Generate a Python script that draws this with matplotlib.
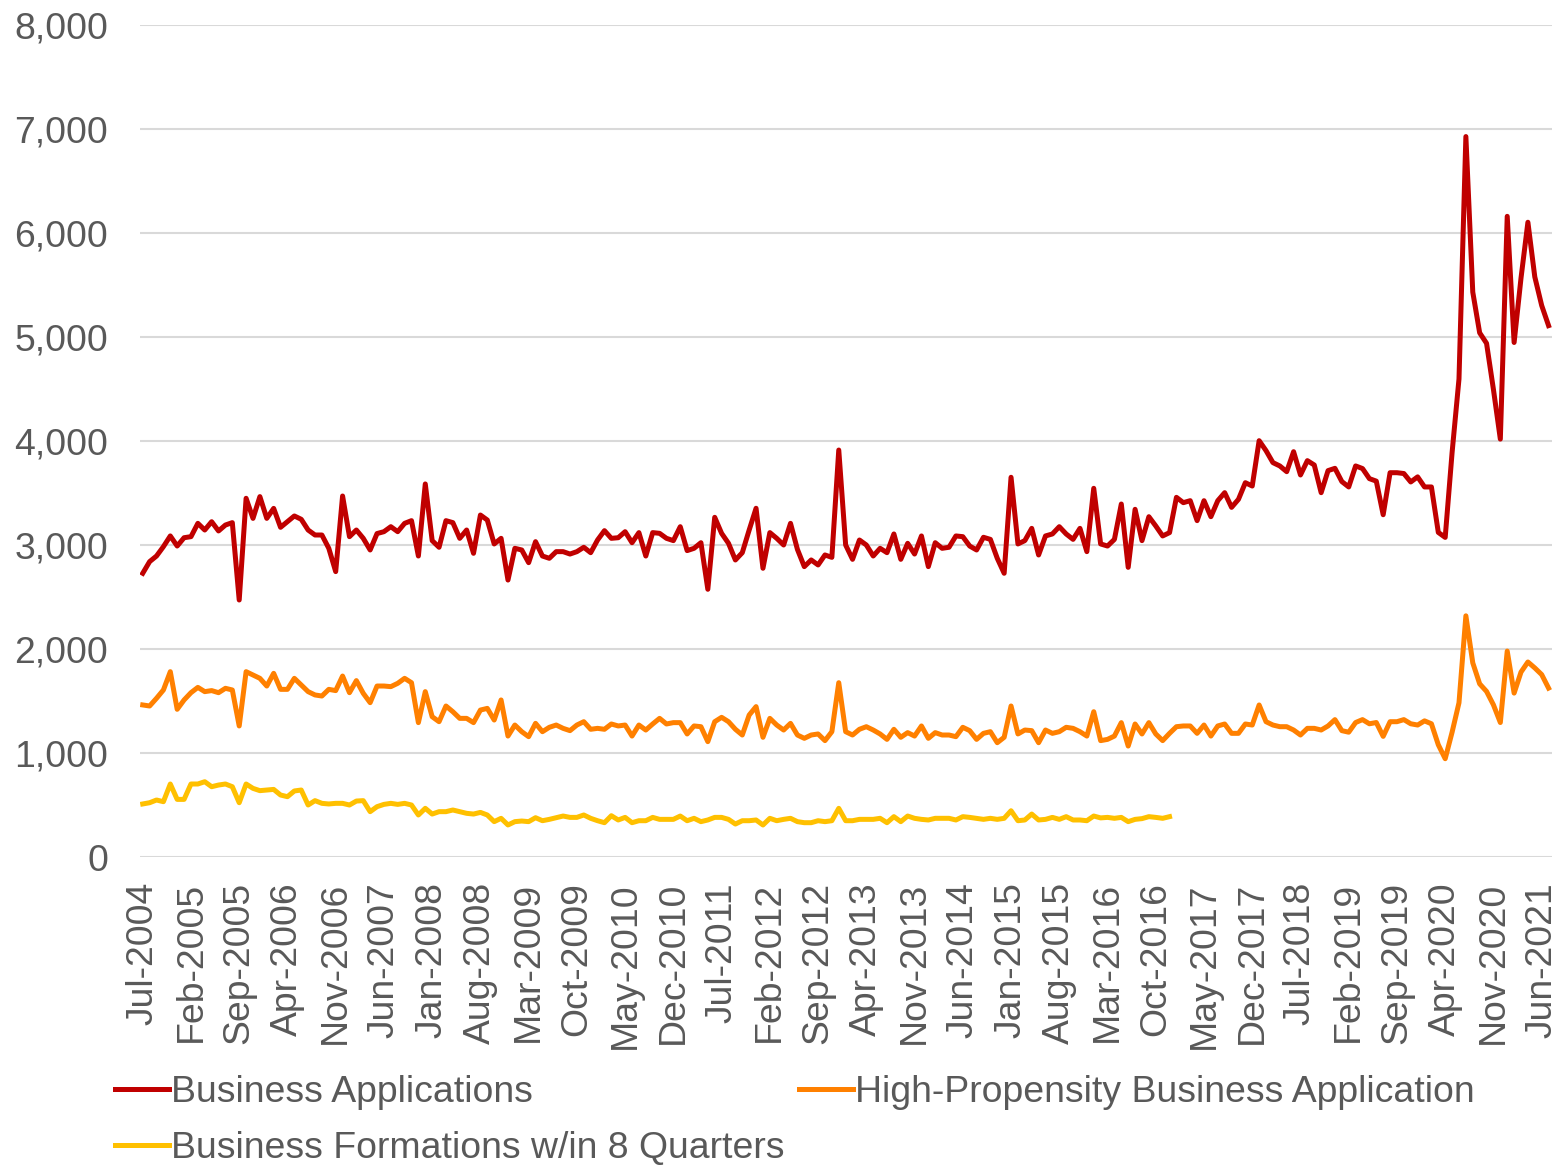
import numpy as np
import pandas as pd
import matplotlib
matplotlib.use("Agg")
import matplotlib.pyplot as plt

# monthly counts, Jul-2004 .. Jul-2021
business_applications = [
    2728, 2840, 2894, 2984, 3087, 2990, 3070, 3080, 3208, 3144, 3224, 3135, 3192, 3215, 2471,
    3449, 3256, 3465, 3256, 3352, 3170, 3224, 3279, 3247, 3144, 3096, 3096, 2968, 2744, 3471,
    3080, 3144, 3064, 2952, 3110, 3128, 3176, 3128, 3208, 3234, 2894, 3587, 3042, 2978, 3234,
    3215, 3064, 3144, 2920, 3288, 3240, 3010, 3064, 2663, 2968, 2952, 2830, 3032, 2894, 2872,
    2936, 2936, 2913, 2936, 2978, 2926, 3048, 3138, 3064, 3070, 3128, 3022, 3119, 2894, 3119,
    3112, 3064, 3042, 3176, 2946, 2968, 3022, 2574, 3266, 3112, 3016, 2856, 2926, 3144, 3353,
    2776, 3119, 3064, 3000, 3208, 2958, 2792, 2856, 2808, 2904, 2881, 3913, 3000, 2862, 3048,
    3000, 2894, 2968, 2926, 3106, 2862, 3016, 2913, 3087, 2792, 3022, 2968, 2978, 3087, 3080,
    2990, 2952, 3074, 3054, 2872, 2728, 3651, 3010, 3042, 3160, 2904, 3087, 3106, 3176, 3106,
    3054, 3160, 2936, 3545, 3010, 2990, 3054, 3394, 2785, 3343, 3042, 3272, 3183, 3087, 3119,
    3458, 3407, 3426, 3234, 3426, 3272, 3426, 3503, 3362, 3439, 3599, 3567, 4003, 3907, 3792,
    3760, 3705, 3897, 3673, 3811, 3769, 3503, 3715, 3737, 3610, 3558, 3760, 3735, 3638, 3614,
    3291, 3695, 3695, 3687, 3606, 3655, 3558, 3558, 3121, 3073, 3889, 4596, 6927, 5432, 5040,
    4939, 4495, 4018, 6160, 4947, 5566, 6103, 5578, 5303, 5109,
]

high_propensity = [
    1462, 1452, 1526, 1606, 1782, 1420, 1510, 1580, 1631, 1590, 1600, 1580, 1622, 1606, 1260,
    1782, 1750, 1718, 1644, 1766, 1612, 1612, 1718, 1654, 1590, 1558, 1548, 1612, 1600, 1740,
    1580, 1696, 1574, 1484, 1644, 1644, 1638, 1670, 1718, 1676, 1292, 1590, 1349, 1301, 1452,
    1397, 1333, 1333, 1292, 1413, 1429, 1317, 1510, 1163, 1269, 1205, 1157, 1285, 1205, 1247,
    1269, 1237, 1215, 1269, 1301, 1228, 1237, 1228, 1279, 1260, 1269, 1163, 1269, 1221, 1279,
    1333, 1279, 1292, 1292, 1183, 1260, 1253, 1109, 1301, 1343, 1301, 1228, 1173, 1365, 1446,
    1151, 1333, 1269, 1221, 1285, 1173, 1141, 1173, 1183, 1119, 1205, 1676, 1205, 1173, 1228,
    1253, 1221, 1183, 1131, 1228, 1151, 1196, 1163, 1260, 1141, 1196, 1173, 1173, 1157, 1247,
    1215, 1131, 1189, 1205, 1099, 1151, 1452, 1183, 1221, 1215, 1099, 1221, 1189, 1205, 1247,
    1237, 1205, 1163, 1397, 1119, 1131, 1163, 1292, 1067, 1279, 1183, 1292, 1183, 1119, 1189,
    1253, 1260, 1260, 1189, 1269, 1163, 1260, 1279, 1189, 1189, 1279, 1269, 1462, 1301, 1269,
    1253, 1253, 1221, 1173, 1237, 1237, 1221, 1260, 1321, 1215, 1200, 1293, 1321, 1281, 1293,
    1160, 1301, 1301, 1321, 1281, 1269, 1309, 1281, 1079, 945, 1200, 1483, 2319, 1867, 1665,
    1592, 1463, 1293, 1980, 1576, 1778, 1875, 1818, 1754, 1624,
]

# only available through Dec-2016
formations_8q = [
    510, 522, 548, 532, 702, 554, 554, 702, 702, 724, 676, 692, 702, 676, 522,
    702, 660, 638, 644, 650, 596, 580, 635, 644, 500, 542, 516, 510, 516, 516,
    500, 538, 542, 436, 484, 506, 516, 506, 516, 500, 404, 468, 413, 436, 436,
    452, 436, 420, 413, 429, 404, 340, 372, 308, 340, 346, 340, 378, 349, 362,
    378, 394, 381, 381, 404, 372, 349, 330, 397, 356, 381, 330, 349, 349, 381,
    362, 362, 362, 394, 349, 372, 340, 356, 381, 381, 362, 317, 349, 349, 356,
    308, 372, 349, 362, 372, 340, 330, 330, 349, 340, 349, 468, 349, 349, 362,
    362, 362, 372, 330, 388, 340, 394, 372, 362, 356, 372, 372, 372, 356, 388,
    381, 372, 362, 372, 362, 372, 445, 349, 356, 413, 356, 362, 381, 362, 388,
    356, 356, 349, 394, 376, 381, 372, 381, 340, 362, 369, 388, 381, 372, 388,
]

months = pd.date_range("2004-07-01", periods=len(business_applications), freq="MS")
labels = [m.strftime("%b-%Y") for m in months]

plt.rcParams['font.family'] = ['Liberation Sans', 'DejaVu Sans']
text_col = '#595959'
fs = 26.9

fig = plt.figure(figsize=(15.57, 11.66), dpi=100)
ax = fig.add_axes([0.0899, 0.265, 0.9069, 0.7136])

x = np.arange(len(months))
l1, = ax.plot(x, business_applications, color='#C00000', lw=3.6,
              label='Business Applications', solid_joinstyle='round')
l2, = ax.plot(x, high_propensity, color='#FF8000', lw=3.6,
              label='High-Propensity Business Application', solid_joinstyle='round')
l3, = ax.plot(x[:len(formations_8q)], formations_8q, color='#FFC000', lw=3.6,
              label='Business Formations w/in 8 Quarters', solid_joinstyle='round')

ax.set_ylim(0, 8000)
ax.set_xlim(-0.4, len(months) - 0.5)
ax.set_yticks(range(0, 8001, 1000))
ax.set_yticklabels([f'{v:,}' for v in range(0, 8001, 1000)])
ax.grid(axis='y', color='#d9d9d9', lw=1.5)
ax.set_axisbelow(True)

tick_pos = x[::7]
ax.set_xticks(tick_pos)
ax.set_xticklabels([labels[i] for i in tick_pos], rotation=90)

for s in ax.spines.values():
    s.set_visible(False)
ax.tick_params(axis='both', length=0, labelsize=fs, colors=text_col)
ax.tick_params(axis='y', pad=23)
ax.tick_params(axis='x', pad=18)

leg = fig.legend(handles=[l1, l3, l2], ncol=2, loc='lower left',
                 bbox_to_anchor=(0.064, -0.013), frameon=False,
                 fontsize=fs, handlelength=1.45, handletextpad=0.05,
                 columnspacing=0.4, labelspacing=0.57, borderaxespad=0)
for t in leg.get_texts():
    t.set_color(text_col)

fig.savefig('out.png', dpi=100)
